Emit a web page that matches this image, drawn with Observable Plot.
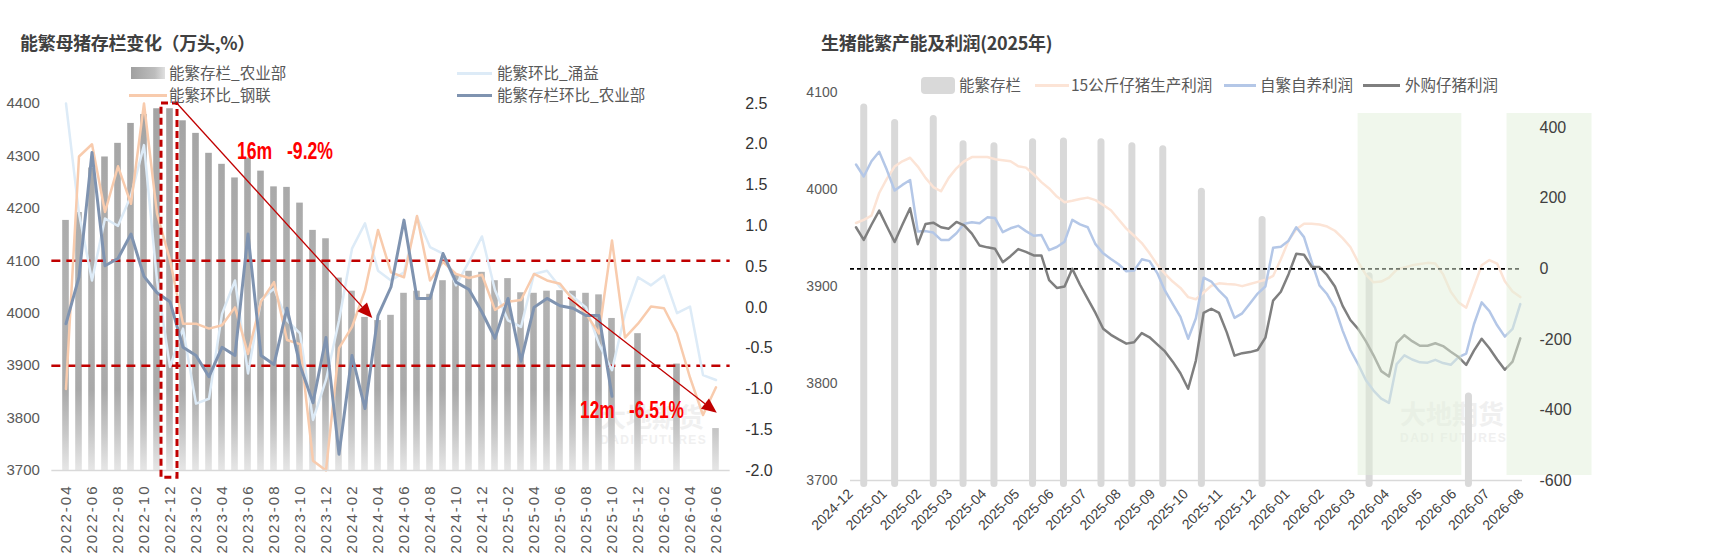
<!DOCTYPE html>
<html lang="zh">
<head>
<meta charset="utf-8">
<script src="https://cdn.jsdelivr.net/npm/d3@7"></script>
<script src="https://cdn.jsdelivr.net/npm/@observablehq/plot@0.6"></script>
<style>
  html, body { margin: 0; padding: 0; background: #fff; }
  #root { position: relative; width: 1723px; height: 557px; overflow: hidden; background: #fff;
          font-family: "Noto Sans CJK SC", "Noto Sans", sans-serif; }
  .abs { position: absolute; }
  .title { font-weight: 700; font-size: 18px; line-height: 20px; color: #404040; white-space: nowrap; letter-spacing: -0.3px; }
  .leg { font-size: 15.5px; line-height: 16px; color: #595959; white-space: nowrap; }
  .wm1 { font-size: 26px; font-weight: 700; color: #F0F0F0; line-height: 28px; white-space: nowrap; }
  .wm2 { font-family: "Liberation Sans", sans-serif; font-size: 12px; font-weight: 700; letter-spacing: 1.5px; color: #F0F0F0; white-space: nowrap; }
  #leftChart g[aria-label="x-axis tick label"] text { letter-spacing: 2px; }
</style>
</head>
<body>
<div id="root"></div>
<script>
// ================= LEFT CHART DATA =================
const leftMonths = d3.utcMonths(new Date(Date.UTC(2022, 3, 1)), new Date(Date.UTC(2026, 6, 1))).map(d3.utcFormat("%Y-%m"));
const leftTickMonths = leftMonths.filter((d, i) => i % 2 === 0);
// 能繁存栏_农业部 (万头)
const sowStockMOA = [4177,4192,4277,4298,4324,4362,4379,4390,4390,4367,
                     4343,4305,4284,4258,4296,4271,4241,4240,4210,4158,
                     4142,4067,4042,3992,3986,3996,4038,4042,4036,4062,
                     4073,4080,4078,4062,4066,4039,4038,4042,4043,4042,
                     4038,4035,3990,null,3961,null,null,3903,null,null,3780];
// 能繁存栏环比_农业部 (%)
const sowMoMMOA = [-0.20,0.37,1.90,0.51,0.60,0.90,0.38,0.18,0.07,-0.49,
                   -0.59,-0.85,-0.49,-0.59,0.90,-0.59,-0.70,-0.01,-0.71,-1.17,
                   -0.37,-1.80,-0.59,-1.24,-0.10,0.25,1.07,0.11,0.11,0.66,
                   0.31,0.22,-0.06,-0.38,0.11,-0.66,0.00,0.11,0.02,-0.01,
                   -0.10,-0.10,-1.09];
// 能繁环比_钢联 (%)
const sowMoMMysteel = [-1.00,1.85,2.00,1.17,1.73,1.27,2.50,1.15,0.58,-0.20,
                       -0.20,-0.26,-0.22,0.00,-0.57,0.07,0.31,-0.40,-0.45,-1.88,
                       -2.00,-0.50,-0.24,0.21,0.95,0.43,0.37,1.12,0.33,0.56,
                       0.41,0.36,0.40,-0.03,0.07,0.09,0.41,0.33,0.29,0.09,
                       -0.08,-0.32,0.82,-0.37,-0.20,0.01,-0.01,-0.32,-0.86,-1.32,
                       -0.98];
// 能繁环比_涌益 (%)
const sowMoMYongyi = [2.50,1.15,0.33,1.09,1.00,1.37,1.99,0.33,-0.73,-0.26,
                      -1.18,-1.12,-0.08,0.33,-0.81,0.09,0.23,-0.16,-0.32,-1.38,
                      -0.89,-0.16,0.72,1.03,0.45,0.33,0.43,1.11,0.74,0.66,
                      0.27,0.56,0.87,0.21,-0.16,-0.24,0.41,0.45,0.25,0.13,
                      0.00,-0.45,-0.77,-0.08,0.37,0.27,0.39,-0.07,0.01,-0.83,
                      -0.89];
const leftStockTicks = [3700,3800,3900,4000,4100,4200,4300,4400];
const leftPctTicks = [-2.0,-1.5,-1.0,-0.5,0,0.5,1.0,1.5,2.0,2.5];
const leftRefLevels = [4100, 3900];
const focusBox = [{m: "2022-12", lo: 3686, hi: 4400}];
const leftNote1 = [{m: "2023-05", v: 4309, label: "16m\u00a0\u00a0 -9.2%"}];
const leftNote2 = [{m: "2025-07", v: 3815, label: "12m\u00a0\u00a0 -6.51%"}];
// arrows: category + fraction of band, value on stock axis
const leftArrows = [
  {from: "2022-12", fromF: 1.05, fromV: 4400, to: "2024-04", toF: 0.1, toV: 3990},
  {from: "2025-07", fromF: 0.15, fromV: 4029, to: "2026-06", toF: 0.6, toV: 3809}
];

// ================= RIGHT CHART DATA =================
const rightBarDates = ["2024-12-13","2025-01-10","2025-02-14","2025-03-13","2025-04-10","2025-05-15","2025-06-12",
                       "2025-07-16","2025-08-13","2025-09-10","2025-10-15","2025-12-09","2026-03-16","2026-06-14"];
const rightBarStock = [4081,4065,4069,4043,4041,4045,4046,4045,4041,4038,3994,3965,3907,3783];
const firstWeek = "2024-12-06";
// 15公斤仔猪生产利润
const pigletProfit = [130,139,151,215,256,290,305,315,290,258,
                      232,220,258,285,305,317,317,317,311,308,
                      305,291,287,268,246,228,205,189,193,198,
                      202,195,181,166,140,114,94,73,44,12,
                      -14,-36,-54,-80,-86,-67,-48,-41,-43,-44,
                      -49,-43,-37,-31,-20,27,80,112,128,128,
                      126,120,108,87,62,20,-16,-38,-36,-25,
                      -2,4,10,14,17,15,-15,-65,-95,-110,
                      -50,10,25,15,-35,-64,-80];
// 自繁自养利润
const selfBreedProfit = [296,262,305,332,280,222,238,252,106,107,
                         103,82,82,101,128,132,129,146,144,104,
                         115,122,107,94,96,53,62,77,139,126,
                         118,70,44,28,13,-7,-5,27,22,-12,
                         -62,-99,-136,-198,-140,-25,-36,-62,-84,-139,
                         -126,-98,-70,-50,60,63,80,118,90,20,
                         -47,-72,-110,-175,-230,-270,-315,-345,-368,-380,
                         -270,-245,-257,-265,-266,-258,-267,-272,-250,-240,
                         -157,-95,-120,-160,-192,-170,-100];
// 外购仔猪利润
const purchasedProfit = [118,82,125,165,120,76,125,172,70,127,
                         131,118,114,133,123,100,66,61,57,19,
                         36,56,48,38,38,-32,-54,-50,0,-45,
                         -85,-125,-170,-187,-200,-212,-208,-182,-194,-214,
                         -234,-263,-296,-340,-260,-125,-113,-125,-180,-246,
                         -239,-236,-230,-195,-90,-65,-15,43,40,6,
                         5,-18,-50,-105,-145,-170,-205,-245,-290,-305,
                         -210,-188,-205,-218,-218,-211,-219,-235,-250,-272,
                         -232,-198,-225,-257,-286,-263,-197];
const rightStockTicks = [3700,3800,3900,4000,4100];
const rightProfitTicks = [-600,-400,-200,0,200,400];
const rightShades = [{start: "2026-03-06", end: "2026-06-08"}, {start: "2026-07-19", end: "2026-10-04"}];

// ================= HELPERS =================
const root = document.getElementById("root");
function addDiv(cls, text, style) {
  const d = document.createElement("div");
  d.className = "abs " + (cls || "");
  if (text != null) d.textContent = text;
  Object.assign(d.style, style);
  root.appendChild(d);
  return d;
}
const numFont = "'Liberation Sans', Arial, sans-serif";
const plainInt = d => String(Math.round(d));

// watermarks (behind)
addDiv("wm1", "大地期货", {left: "600px", top: "402px"});
addDiv("wm2", "DADI FUTURES", {left: "600px", top: "433px"});
addDiv("wm1", "大地期货", {left: "1400px", top: "399px"});
addDiv("wm2", "DADI FUTURES", {left: "1400px", top: "431px"});

// ================= LEFT CHART =================
const pctToStock = p => 3700 + (p + 2) / 4.5 * 700;
const stockToPct = s => (s - 3700) / 700 * 4.5 - 2;
const rowsOf = arr => arr.map((v, i) => ({m: leftMonths[i], v})).filter(d => d.v != null);

const barDefs = () => {
  const defs = d3.create("svg:defs");
  const g = defs.append("linearGradient").attr("id", "barGrad")
    .attr("gradientUnits", "userSpaceOnUse").attr("x1", 0).attr("x2", 0).attr("y1", 103).attr("y2", 470);
  [[0, "#A3A3A3"], [0.55, "#B2B2B2"], [0.78, "#A9A9A9"], [0.9, "#C8C8C8"], [1, "#E6E6E6"]]
    .forEach(([o, c]) => g.append("stop").attr("offset", o).attr("stop-color", c));
  return defs.node();
};

const leftPlot = Plot.plot({
  width: 800, height: 557,
  marginLeft: 51.35, marginRight: 70.35, marginTop: 103, marginBottom: 87,
  x: {type: "band", domain: leftMonths, padding: 0, label: null},
  y: {domain: [3700, 4400], label: null},
  style: {background: "transparent", fontFamily: numFont, overflow: "visible"},
  marks: [
    barDefs,
    Plot.barY(rowsOf(sowStockMOA), {x: "m", y1: 3700, y2: "v", fill: "url(#barGrad)", insetLeft: 3.2, insetRight: 3.2}),
    Plot.ruleY(leftRefLevels, {stroke: "#C00000", strokeWidth: 2.5, strokeDasharray: "9,6"}),
    Plot.line(rowsOf(sowMoMYongyi), {x: "m", y: d => pctToStock(d.v), stroke: "#DDEBF7", strokeWidth: 2.5}),
    Plot.line(rowsOf(sowMoMMysteel), {x: "m", y: d => pctToStock(d.v), stroke: "#F8CBAD", strokeWidth: 2.5}),
    Plot.line(rowsOf(sowMoMMOA), {x: "m", y: d => pctToStock(d.v), stroke: "#7F93B0", strokeWidth: 3}),
    Plot.ruleY([3700], {stroke: "#D9D9D9", strokeWidth: 1.5}),
    Plot.barY(focusBox, {x: "m", y1: "lo", y2: "hi", fill: "none", stroke: "#C00000", strokeWidth: 3,
                         strokeDasharray: "7,4", insetLeft: -2, insetRight: -1}),
    Plot.text(leftNote1, {x: "m", y: "v", text: "label", dx: 2, textAnchor: "start", fill: "#FF0000",
                          fontWeight: "bold", fontSize: 23}),
    Plot.text(leftNote2, {x: "m", y: "v", text: "label", dx: 7, textAnchor: "start", fill: "#FF0000",
                          fontWeight: "bold", fontSize: 23}),
    Plot.axisY(leftStockTicks, {anchor: "left", tickSize: 0, tickPadding: 12, fontSize: 15, fill: "#595959",
              tickFormat: plainInt, label: null}),
    Plot.axisY(leftPctTicks.map(pctToStock), {anchor: "right", tickSize: 0, tickPadding: 15, fontSize: 16, fill: "#333333",
              tickFormat: d => (Math.round(stockToPct(d) * 10) / 10).toFixed(1), label: null}),
    Plot.axisX(leftTickMonths, {anchor: "bottom", tickSize: 0, tickRotate: -90, tickPadding: 14, fontSize: 15,
              fill: "#595959", label: null})
  ]
});
const leftWrap = addDiv("", null, {left: "0px", top: "0px"});
leftWrap.id = "leftChart";
leftWrap.appendChild(leftPlot);

// condense the two red notes (narrow bold face in the reference)
(function condenseNotes() {
  const texts = leftPlot.querySelectorAll('g[aria-label="text"] text');
  const widths = [96, 104];
  texts.forEach((t, i) => {
    if (widths[i]) { t.setAttribute("textLength", widths[i]); t.setAttribute("lengthAdjust", "spacingAndGlyphs"); }
  });
})();

// arrows drawn through Plot's own scales
(function drawArrows() {
  const sx = leftPlot.scale("x"), sy = leftPlot.scale("y");
  const bw = sx.bandwidth;
  const svg = d3.select(leftPlot);
  const g = svg.append("g").attr("aria-label", "arrows");
  leftArrows.forEach(a => {
    const x1 = sx.apply(a.from) + bw * a.fromF, y1 = sy.apply(a.fromV);
    const x2 = sx.apply(a.to) + bw * a.toF, y2 = sy.apply(a.toV);
    const ang = Math.atan2(y2 - y1, x2 - x1), L = 15, W = 6.5;
    const bxp = x2 - L * Math.cos(ang), byp = y2 - L * Math.sin(ang);
    g.append("line").attr("x1", x1).attr("y1", y1).attr("x2", bxp).attr("y2", byp)
      .attr("stroke", "#C00000").attr("stroke-width", 1.3);
    const px = -Math.sin(ang) * W, py = Math.cos(ang) * W;
    g.append("polygon").attr("points", `${x2},${y2} ${bxp + px},${byp + py} ${bxp - px},${byp - py}`)
      .attr("fill", "#C00000");
  });
})();

// left title + legend
addDiv("title", "能繁母猪存栏变化（万头,%）", {left: "20px", top: "32px"});
addDiv("", null, {left: "131px", top: "67px", width: "34px", height: "12px",
                  background: "linear-gradient(to right, #A0A0A0, #BDBDBD 70%, #E0E0E0)"});
addDiv("leg", "能繁存栏_农业部", {left: "169px", top: "64px"});
addDiv("", null, {left: "129px", top: "93.5px", width: "38px", height: "3.5px", background: "#F8CBAD"});
addDiv("leg", "能繁环比_钢联", {left: "169px", top: "86px"});
addDiv("", null, {left: "457px", top: "71.5px", width: "35px", height: "3.5px", background: "#DDEBF7"});
addDiv("leg", "能繁环比_涌益", {left: "497px", top: "64px"});
addDiv("", null, {left: "457px", top: "93.5px", width: "35px", height: "3.5px", background: "#7F93B0"});
addDiv("leg", "能繁存栏环比_农业部", {left: "497px", top: "86px"});

// ================= RIGHT CHART =================
const profitToStock = v => 3700 + (v + 600) / 1100 * 400;
const stockToProfit = s => (s - 3700) / 400 * 1100 - 600;
const weekRows = arr => arr.map((v, k) => ({date: d3.utcDay.offset(new Date(firstWeek), 7 * k), v}));
const barRows = rightBarDates.map((d, i) => ({date: new Date(d), v: rightBarStock[i]}));
const shadeRows = rightShades.map(s => ({start: new Date(s.start), end: new Date(s.end)}));
const rightMonthTicks = d3.utcMonths(new Date("2024-12-01"), new Date("2026-08-02"));

const rightPlot = Plot.plot({
  width: 900, height: 557,
  marginLeft: 90, marginRight: 138, marginTop: 92, marginBottom: 77,
  x: {type: "utc", domain: [new Date("2024-12-01"), new Date("2026-08-02")], label: null},
  y: {domain: [3700, 4100], label: null},
  style: {background: "transparent", fontFamily: numFont, overflow: "visible"},
  marks: [
    Plot.ruleX(barRows, {x: "date", y1: 3700, y2: "v", stroke: "#D9D9D9", strokeWidth: 7,
                         strokeLinecap: "round", insetTop: 3.5, insetBottom: 3.5}),
    Plot.line(weekRows(pigletProfit), {x: "date", y: d => profitToStock(d.v), stroke: "#FCE4D6", strokeWidth: 2.5}),
    Plot.line(weekRows(selfBreedProfit), {x: "date", y: d => profitToStock(d.v), stroke: "#B4C7E7", strokeWidth: 2.5}),
    Plot.line(weekRows(purchasedProfit), {x: "date", y: d => profitToStock(d.v), stroke: "#7F7F7F", strokeWidth: 2.5}),
    Plot.ruleY([profitToStock(0)], {stroke: "#000000", strokeWidth: 1.6, strokeDasharray: "4,3"}),
    Plot.rect(shadeRows, {x1: "start", x2: "end", fill: "#E2EFDA", fillOpacity: 0.5, insetTop: 21, insetBottom: 5}),
    Plot.ruleY([3700], {stroke: "#D9D9D9", strokeWidth: 1.5}),
    Plot.axisY(rightStockTicks, {anchor: "left", tickSize: 0, tickPadding: 13, fontSize: 14, fill: "#595959",
              tickFormat: plainInt, label: null}),
    Plot.axisY(rightProfitTicks.map(profitToStock), {anchor: "right", tickSize: 0, tickPadding: 17, fontSize: 16, fill: "#404040",
              tickFormat: d => String(Math.round(stockToProfit(d))), label: null}),
    Plot.axisX(rightMonthTicks, {anchor: "bottom", tickSize: 0, tickRotate: -45, tickPadding: 11, fontSize: 14,
              fill: "#404040", tickFormat: d3.utcFormat("%Y-%m"), label: null})
  ]
});
const rightWrap = addDiv("", null, {left: "760px", top: "0px"});
rightWrap.appendChild(rightPlot);

// right title + legend
addDiv("title", "生猪能繁产能及利润(2025年)", {left: "821px", top: "32px"});
addDiv("", null, {left: "921px", top: "77px", width: "34px", height: "17px", background: "#D9D9D9", borderRadius: "4px"});
addDiv("leg", "能繁存栏", {left: "959px", top: "76px"});
addDiv("", null, {left: "1035px", top: "84px", width: "34px", height: "3px", background: "#FCE4D6"});
addDiv("leg", "15公斤仔猪生产利润", {left: "1071px", top: "76px"});
addDiv("", null, {left: "1224px", top: "84px", width: "32px", height: "3px", background: "#B4C7E7"});
addDiv("leg", "自繁自养利润", {left: "1260px", top: "76px"});
addDiv("", null, {left: "1363px", top: "84px", width: "37px", height: "3px", background: "#7F7F7F"});
addDiv("leg", "外购仔猪利润", {left: "1405px", top: "76px"});
</script>
</body>
</html>
